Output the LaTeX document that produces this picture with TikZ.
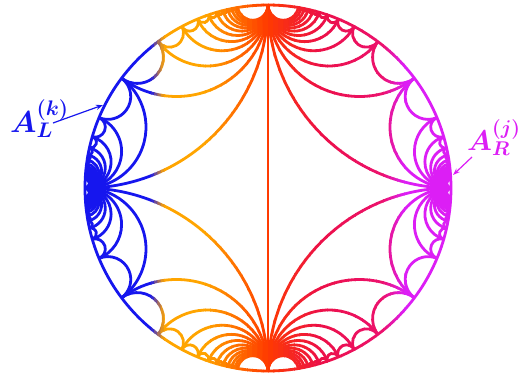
\documentclass[tikz,border=0pt]{standalone}
\usepackage{graphicx}
\usetikzlibrary{arrows.meta}
\definecolor{cblue}{RGB}{22,22,238}
\definecolor{corange}{RGB}{255,165,0}
\definecolor{credor}{RGB}{255,58,0}
\definecolor{ccrim}{RGB}{236,16,72}
\definecolor{cpink}{RGB}{236,18,110}
\definecolor{cmag}{RGB}{220,30,245}
\tikzset{geo/.style={line width=2.8pt},
  lbl/.style={anchor=base west, inner sep=0pt, font=\boldmath\fontsize{24}{28}\selectfont}}
\newcommand\geoarc[2]{%
  \pgfmathsetmacro\geoA{min((#1),(#2))}%
  \pgfmathsetmacro\geoD{abs((#2)-(#1))/2}%
  \pgfmathsetmacro\geoM{\geoA+\geoD}%
  \pgfmathsetmacro\geoR{183*tan(\geoD)}%
  \pgfmathsetmacro\geoS{\geoM+270-\geoD}%
  \pgfmathsetmacro\geoE{\geoM+90+\geoD}%
  \draw[geo] (\geoA:183) arc[start angle=\geoS, end angle=\geoE, radius=\geoR];%
}
\newcommand\quadarc[2]{%
  \geoarc{#1}{#2}%
  \geoarc{180-(#1)}{180-(#2)}%
  \geoarc{0-(#1)}{0-(#2)}%
  \geoarc{180+(#1)}{180+(#2)}%
}
\newcommand\allgeos{%
  % fan from the top / bottom vertices and their scallops
  \foreach \n in {1,...,12}{%
    \pgfmathsetmacro\tA{270-2*atan(\n)}%
    \quadarc{90}{\tA}%
  }%
  \foreach \n in {2,...,11}{%
    \pgfmathsetmacro\tA{270-2*atan(\n)}%
    \pgfmathsetmacro\tB{270-2*atan(\n+1)}%
    \quadarc{\tA}{\tB}%
  }%
  % fan from the left / right vertices and their scallops
  \foreach \n in {1,...,20}{%
    \pgfmathsetmacro\lA{270-2*atan((\n+1)/\n)}%
    \quadarc{180}{\lA}%
  }%
  \foreach \n in {1,...,19}{%
    \pgfmathsetmacro\lA{270-2*atan((\n+1)/\n)}%
    \pgfmathsetmacro\lB{270-2*atan((\n+2)/(\n+1))}%
    \quadarc{\lA}{\lB}%
  }%
  \draw[geo] (0,183) -- (0,-183);%
  \draw[geo] (0,0) circle[radius=183];%
}
\newcommand\band[5]{%
  \foreach \i in {1,...,#5}{%
    \pgfmathsetmacro\xa{#1-268+(#2-#1)*(\i-1)/#5}%
    \pgfmathsetmacro\xb{#1-268+(#2-#1)*\i/#5+0.8}%
    \pgfmathtruncatemacro\pq{round(100*(\i-0.5)/#5)}%
    \colorlet{curcol}{#4!\pq!#3}%
    \begin{scope}[color=curcol]
      \clip (\xa,-200) rectangle (\xb,200);
      \allgeos
    \end{scope}
  }%
}
\begin{document}
\begin{tikzpicture}[x=1pt,y=1pt]
\useasboundingbox (-268,-195) rectangle (251,188);
\band{0}{151}{cblue}{cblue}{1}
\band{151}{164}{cblue}{corange}{4}
\band{164}{205}{corange}{corange}{1}
\band{205}{268}{corange}{credor}{12}
\band{268}{320}{credor}{ccrim}{10}
\band{320}{383}{ccrim}{cpink}{9}
\band{383}{404}{cpink}{cmag}{6}
\band{404}{519}{cmag}{cmag}{1}
\node[lbl, text=cblue] (AL) at (-258,56) {\scalebox{1.22}{$A_L^{(k)}$}};
\node[lbl, text=cmag] (AR) at (199,38) {\scalebox{1.15}{$A_R^{(j)}$}};
\coordinate (ALtail) at (-215,65);
\coordinate (ALtip) at (-165,83);
\coordinate (ARtail) at (204,31);
\coordinate (ARtip) at (185,13);
\draw[-{Stealth[length=7pt,width=5pt]}, line width=1.2pt, cblue] (ALtail) -- (ALtip);
\draw[-{Stealth[length=7pt,width=5pt]}, line width=1.2pt, cmag] (ARtail) -- (ARtip);
\end{tikzpicture}
\end{document}
